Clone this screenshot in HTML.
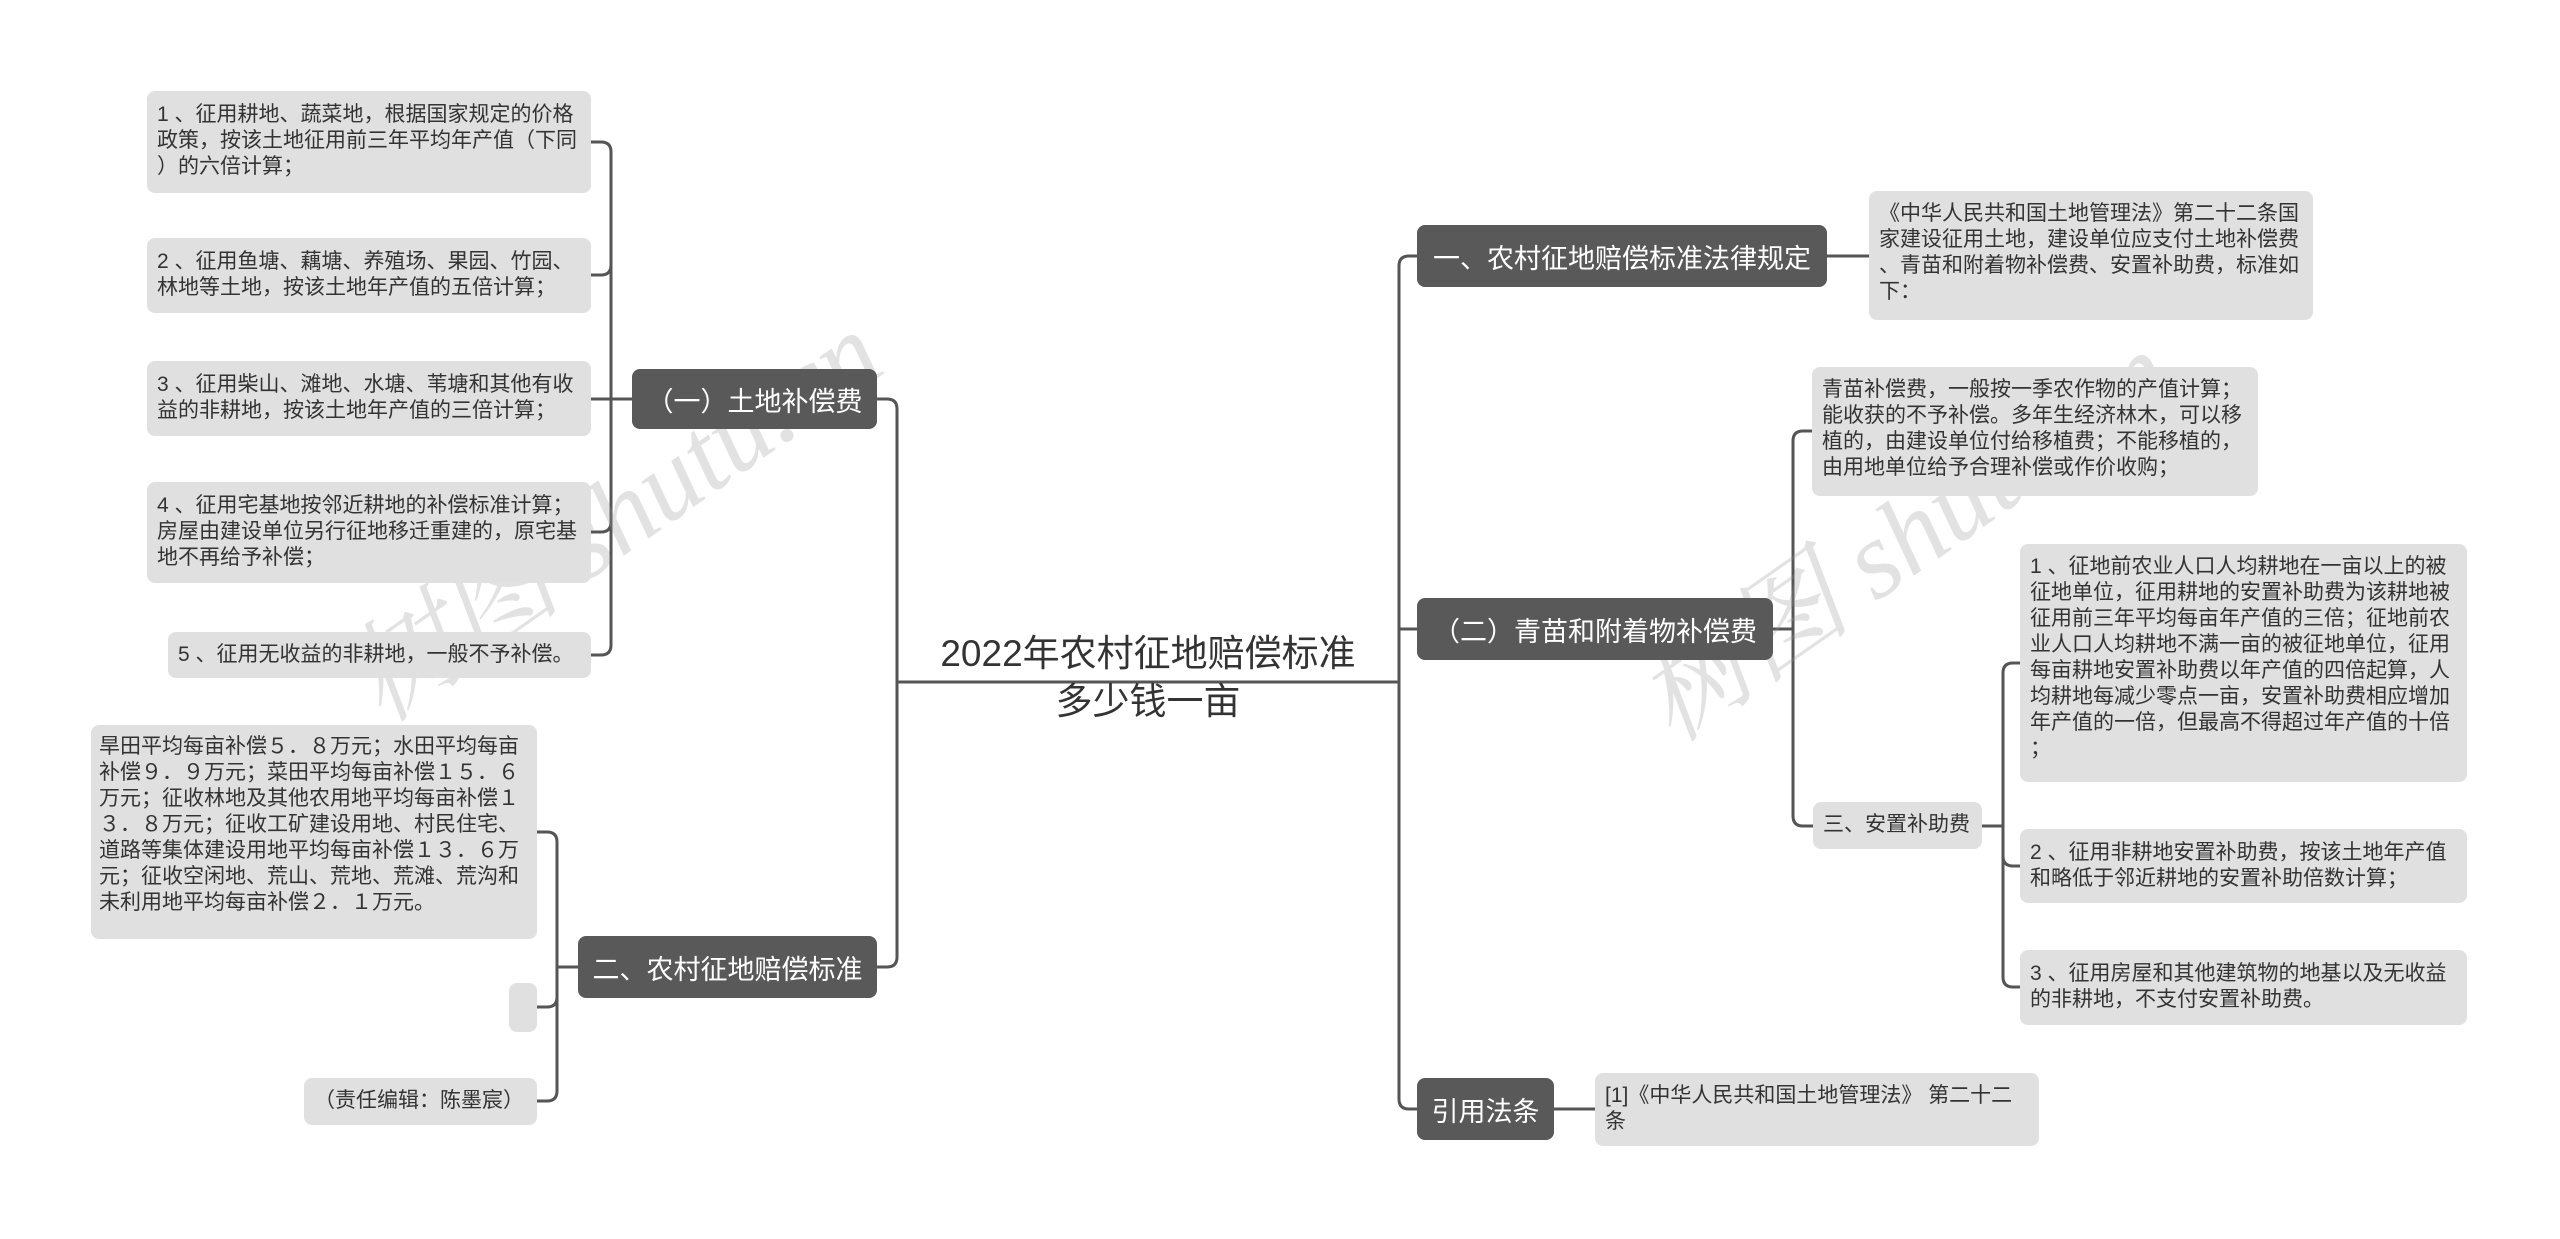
<!DOCTYPE html>
<html><head><meta charset="utf-8">
<style>
html,body{margin:0;padding:0;background:#fff;}
body{width:2560px;height:1239px;position:relative;overflow:hidden;font-family:"Liberation Sans","Noto Sans CJK SC",sans-serif;}
.b{position:absolute;background:#e0e0e0;border-radius:8px;color:#333;font-size:21px;line-height:26px;box-sizing:border-box;padding:9px 10px;white-space:nowrap;}
.d{position:absolute;background:#595959;border-radius:8px;color:#fff;font-size:27px;box-sizing:border-box;display:flex;align-items:center;justify-content:center;white-space:nowrap;}
.wm{position:absolute;color:rgba(150,150,150,0.28);font-family:"Liberation Serif","Noto Serif CJK SC",serif;font-style:italic;font-size:110px;transform:rotate(-35deg);white-space:nowrap;}
</style></head><body>
<svg width="2560" height="1239" style="position:absolute;left:0;top:0" fill="none" stroke="#555" stroke-width="3">
<path d="M632 399H611V152Q611 142 601 142H591"/>
<path d="M611 399V265Q611 275 601 275H591"/>
<path d="M611 399H591"/>
<path d="M611 399V522Q611 532 601 532H591"/>
<path d="M611 399V645Q611 655 601 655H591"/>
<path d="M578 967H557V842Q557 832 547 832H537"/>
<path d="M557 967V997Q557 1007 547 1007H537"/>
<path d="M557 967V1091Q557 1101 547 1101H537"/>
<path d="M877 399H887Q897 399 897 409V957Q897 967 887 967H877"/>
<path d="M897 682H1399"/>
<path d="M1417 256H1409Q1399 256 1399 266V1099Q1399 1109 1409 1109H1417"/>
<path d="M1399 629H1417"/>
<path d="M1827 256H1869"/>
<path d="M1773 629H1793V441Q1793 431 1803 431H1812"/>
<path d="M1793 629V816Q1793 826 1803 826H1813"/>
<path d="M1982 826H2003V673Q2003 663 2013 663H2020"/>
<path d="M2003 826V856Q2003 866 2013 866H2020"/>
<path d="M2003 826V977Q2003 987 2013 987H2020"/>
<path d="M1554 1109H1595"/>
</svg>

<div class="wm" style="left:300px;top:430px;">树图 shutu.cn</div>
<div class="wm" style="left:1590px;top:450px;">树图 shutu.cn</div>

<div class="b" style="left:147px;top:91px;width:444px;height:102px;padding-top:11px;"> 1 、征用耕地、蔬菜地，根据国家规定的价格<br>政策，按该土地征用前三年平均年产值（下同<br>）的六倍计算；</div>
<div class="b" style="left:147px;top:238px;width:444px;height:75px;padding-top:11px;"> 2 、征用鱼塘、藕塘、养殖场、果园、竹园、<br>林地等土地，按该土地年产值的五倍计算；</div>
<div class="b" style="left:147px;top:361px;width:444px;height:75px;padding-top:11px;"> 3 、征用柴山、滩地、水塘、苇塘和其他有收<br>益的非耕地，按该土地年产值的三倍计算；</div>
<div class="b" style="left:147px;top:482px;width:444px;height:101px;padding-top:11px;"> 4 、征用宅基地按邻近耕地的补偿标准计算；<br>房屋由建设单位另行征地移迁重建的，原宅基<br>地不再给予补偿；</div>
<div class="b" style="left:168px;top:632px;width:423px;height:46px;padding-top:10px;"> 5 、征用无收益的非耕地，一般不予补偿。</div>
<div class="d" style="left:632px;top:369px;width:245px;height:60px;">（一）土地补偿费</div>

<div class="b" style="left:91px;top:725px;width:446px;height:214px;padding:9px 8px;">旱田平均每亩补偿５．８万元；水田平均每亩<br>补偿９．９万元；菜田平均每亩补偿１５．６<br>万元；征收林地及其他农用地平均每亩补偿１<br>３．８万元；征收工矿建设用地、村民住宅、<br>道路等集体建设用地平均每亩补偿１３．６万<br>元；征收空闲地、荒山、荒地、荒滩、荒沟和<br>未利用地平均每亩补偿２．１万元。</div>
<div class="b" style="left:509px;top:983px;width:28px;height:49px;padding:0;"></div>
<div class="b" style="left:304px;top:1078px;width:233px;height:47px;padding-top:10px;">（责任编辑：陈墨宸）</div>
<div class="d" style="left:578px;top:936px;width:299px;height:62px;">二、农村征地赔偿标准</div>

<div style="position:absolute;left:880px;top:630px;width:536px;text-align:center;font-size:37px;line-height:48px;color:#333;">2022年农村征地赔偿标准<br>多少钱一亩</div>

<div class="d" style="left:1417px;top:225px;width:410px;height:62px;">一、农村征地赔偿标准法律规定</div>
<div class="b" style="left:1869px;top:191px;width:444px;height:129px;padding-top:10px;">《中华人民共和国土地管理法》第二十二条国<br>家建设征用土地，建设单位应支付土地补偿费<br>、青苗和附着物补偿费、安置补助费，标准如<br>下：</div>
<div class="d" style="left:1417px;top:598px;width:356px;height:62px;">（二）青苗和附着物补偿费</div>
<div class="b" style="left:1812px;top:367px;width:446px;height:129px;padding-top:10px;">青苗补偿费，一般按一季农作物的产值计算；<br>能收获的不予补偿。多年生经济林木，可以移<br>植的，由建设单位付给移植费；不能移植的，<br>由用地单位给予合理补偿或作价收购；</div>
<div class="b" style="left:1813px;top:802px;width:169px;height:47px;padding:10px 10px;">三、安置补助费</div>
<div class="b" style="left:2020px;top:544px;width:447px;height:238px;padding-top:10px;"> 1 、征地前农业人口人均耕地在一亩以上的被<br>征地单位，征用耕地的安置补助费为该耕地被<br>征用前三年平均每亩年产值的三倍；征地前农<br>业人口人均耕地不满一亩的被征地单位，征用<br>每亩耕地安置补助费以年产值的四倍起算，人<br>均耕地每减少零点一亩，安置补助费相应增加<br>年产值的一倍，但最高不得超过年产值的十倍<br>；</div>
<div class="b" style="left:2020px;top:829px;width:447px;height:74px;padding-top:11px;"> 2 、征用非耕地安置补助费，按该土地年产值<br>和略低于邻近耕地的安置补助倍数计算；</div>
<div class="b" style="left:2020px;top:950px;width:447px;height:75px;padding-top:11px;"> 3 、征用房屋和其他建筑物的地基以及无收益<br>的非耕地，不支付安置补助费。</div>
<div class="d" style="left:1417px;top:1078px;width:137px;height:62px;">引用法条</div>
<div class="b" style="left:1595px;top:1073px;width:444px;height:73px;padding-top:10px;">[1]《中华人民共和国土地管理法》 第二十二<br>条</div>
</body></html>
